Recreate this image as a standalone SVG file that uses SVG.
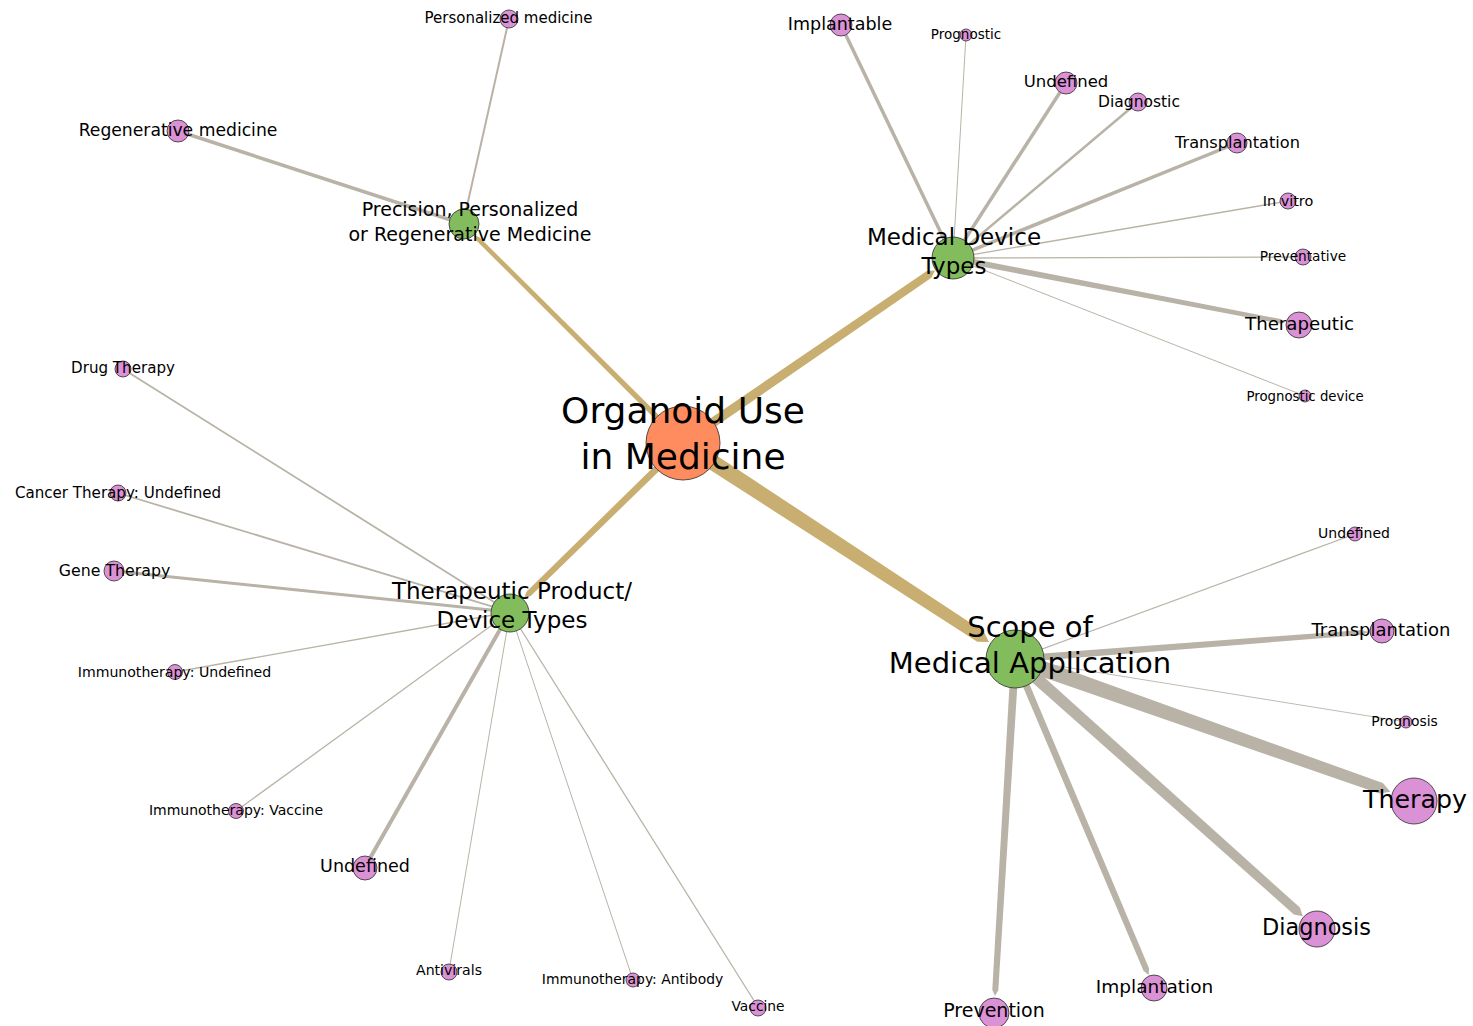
<svg xmlns="http://www.w3.org/2000/svg" width="1473" height="1026" viewBox="0 0 1473 1026">
  <style>
    .bg { fill: #ffffff; }
    .trunk { fill: #c8ae70; }
    .branch { fill: #b9b3a7; }
    .twig { stroke: #b9b3a7; fill: none; }
    circle { stroke: #2b2b2b; stroke-width: 0.8; }
    .root circle { fill: #ff8c5f; }
    .hub circle { fill: #83bc5c; }
    .leaf circle { fill: #da91d5; }
    text { font-family: "DejaVu Sans", "Liberation Sans", sans-serif; fill: #000; text-anchor: middle; }
  </style>
  <rect class="bg" width="1473" height="1026"/>

  <!-- connectors: tapered polygons for heavy links, plain strokes for light ones -->
  <g id="connectors">
    <polygon class="trunk" points="678.6,449.7 977.3,641.7 989.0,642.1 983.9,631.7 687.4,436.3"/>
    <polygon class="trunk" points="685.8,447.1 931.4,277.7 934.9,270.4 926.8,271.1 680.2,438.9"/>
    <polygon class="trunk" points="680.6,440.5 526.5,591.7 524.3,598.0 530.7,595.9 685.4,445.5"/>
    <polygon class="trunk" points="685.0,441.0 479.4,237.2 474.3,235.3 476.3,240.4 681.0,445.0"/>

    <polygon class="branch" points="1012.3,666.5 1379.2,793.5 1390.4,791.7 1382.8,783.1 1017.7,651.5"/>
    <polygon class="branch" points="1011.0,663.5 1293.9,914.4 1302.8,916.3 1299.9,907.6 1019.0,654.5"/>
    <polygon class="branch" points="1011.8,660.4 1143.5,970.8 1148.6,975.1 1149.1,968.4 1018.2,657.6"/>
    <polygon class="branch" points="1011.0,658.8 992.3,989.8 995.0,996.0 998.3,990.2 1019.0,659.2"/>
    <polygon class="branch" points="1015.3,662.5 1362.2,635.0 1368.0,632.0 1361.8,630.0 1014.7,655.5"/>
    <polygon class="branch" points="952.4,261.0 1280.0,323.5 1285.3,322.3 1280.8,319.1 953.6,255.1"/>

    <line class="twig" x1="463" y1="224" x2="178" y2="131" stroke-width="3.5"/>
    <line class="twig" x1="463" y1="224" x2="509" y2="19" stroke-width="2"/>

    <line class="twig" x1="953" y1="258" x2="841" y2="25" stroke-width="3.5"/>
    <line class="twig" x1="953" y1="258" x2="966" y2="35" stroke-width="1"/>
    <line class="twig" x1="953" y1="258" x2="1066" y2="83" stroke-width="3.5"/>
    <line class="twig" x1="953" y1="258" x2="1138" y2="102" stroke-width="2.5"/>
    <line class="twig" x1="953" y1="258" x2="1237" y2="143" stroke-width="3.5"/>
    <line class="twig" x1="953" y1="258" x2="1288" y2="201" stroke-width="1.3"/>
    <line class="twig" x1="953" y1="258" x2="1303" y2="257" stroke-width="1.3"/>
    <line class="twig" x1="953" y1="258" x2="1305" y2="396" stroke-width="1"/>

    <line class="twig" x1="510" y1="612" x2="123" y2="369" stroke-width="1.8"/>
    <line class="twig" x1="510" y1="612" x2="118" y2="493" stroke-width="1.8"/>
    <line class="twig" x1="510" y1="612" x2="114" y2="571" stroke-width="3"/>
    <line class="twig" x1="510" y1="612" x2="175" y2="672" stroke-width="1.3"/>
    <line class="twig" x1="510" y1="612" x2="236" y2="811" stroke-width="1.3"/>
    <line class="twig" x1="510" y1="612" x2="365" y2="867" stroke-width="4"/>
    <line class="twig" x1="510" y1="612" x2="449" y2="971" stroke-width="1"/>
    <line class="twig" x1="510" y1="612" x2="633" y2="980" stroke-width="1"/>
    <line class="twig" x1="510" y1="612" x2="758" y2="1007" stroke-width="1.3"/>

    <line class="twig" x1="1015" y1="659" x2="1355" y2="534" stroke-width="1.2"/>
    <line class="twig" x1="1015" y1="659" x2="1406" y2="722" stroke-width="0.9"/>
  </g>

  <!-- centre -->
  <g id="organoid-use" class="root">
    <circle cx="683" cy="443" r="37"/>
    <text x="683" y="423" font-size="36">Organoid Use</text>
    <text x="683" y="469" font-size="36">in Medicine</text>
  </g>

  <!-- precision / personalized branch -->
  <g id="precision" class="hub">
    <circle cx="464" cy="224" r="15"/>
    <text x="470" y="216" font-size="19">Precision, Personalized</text>
    <text x="470" y="241" font-size="19">or Regenerative Medicine</text>
  </g>
  <g id="personalized-medicine" class="leaf">
    <circle cx="509" cy="19" r="9"/>
    <text x="508.5" y="23" font-size="15">Personalized medicine</text>
  </g>
  <g id="regenerative-medicine" class="leaf">
    <circle cx="178" cy="131" r="11"/>
    <text x="178" y="136" font-size="17.2">Regenerative medicine</text>
  </g>

  <!-- medical device types branch -->
  <g id="medical-device-types" class="hub">
    <circle cx="953" cy="258" r="21"/>
    <text x="954" y="245" font-size="23">Medical Device</text>
    <text x="954" y="274" font-size="23">Types</text>
  </g>
  <g id="mdt-implantable" class="leaf">
    <circle cx="841" cy="25" r="11"/>
    <text x="840" y="30" font-size="17.5">Implantable</text>
  </g>
  <g id="mdt-prognostic" class="leaf">
    <circle cx="966" cy="35" r="6"/>
    <text x="966" y="39" font-size="13.5">Prognostic</text>
  </g>
  <g id="mdt-undefined" class="leaf">
    <circle cx="1066" cy="83" r="11"/>
    <text x="1066" y="87" font-size="16.5">Undefined</text>
  </g>
  <g id="mdt-diagnostic" class="leaf">
    <circle cx="1138" cy="102" r="9"/>
    <text x="1139" y="107" font-size="15.5">Diagnostic</text>
  </g>
  <g id="mdt-transplantation" class="leaf">
    <circle cx="1237" cy="143" r="10"/>
    <text x="1237.5" y="148" font-size="16.2">Transplantation</text>
  </g>
  <g id="mdt-in-vitro" class="leaf">
    <circle cx="1288" cy="201" r="8"/>
    <text x="1288" y="206" font-size="14.4">In vitro</text>
  </g>
  <g id="mdt-preventative" class="leaf">
    <circle cx="1303" cy="257" r="8"/>
    <text x="1303" y="261" font-size="13.7">Preventative</text>
  </g>
  <g id="mdt-therapeutic" class="leaf">
    <circle cx="1299" cy="325" r="13"/>
    <text x="1299.5" y="330" font-size="18.2">Therapeutic</text>
  </g>
  <g id="mdt-prognostic-device" class="leaf">
    <circle cx="1305" cy="396" r="6"/>
    <text x="1305" y="401" font-size="13.3">Prognostic device</text>
  </g>

  <!-- therapeutic product / device types branch -->
  <g id="therapeutic-product" class="hub">
    <circle cx="510" cy="613" r="19"/>
    <text x="512" y="599" font-size="23">Therapeutic Product/</text>
    <text x="512" y="628" font-size="23">Device Types</text>
  </g>
  <g id="tp-drug-therapy" class="leaf">
    <circle cx="123" cy="369" r="8"/>
    <text x="123" y="373" font-size="15.1">Drug Therapy</text>
  </g>
  <g id="tp-cancer-therapy" class="leaf">
    <circle cx="118" cy="493" r="8"/>
    <text x="118" y="498" font-size="15.1">Cancer Therapy: Undefined</text>
  </g>
  <g id="tp-gene-therapy" class="leaf">
    <circle cx="114" cy="571" r="10"/>
    <text x="114.5" y="576" font-size="15.8">Gene Therapy</text>
  </g>
  <g id="tp-immunotherapy-undefined" class="leaf">
    <circle cx="175" cy="672" r="7.5"/>
    <text x="174.5" y="677" font-size="14.1">Immunotherapy: Undefined</text>
  </g>
  <g id="tp-immunotherapy-vaccine" class="leaf">
    <circle cx="236" cy="811" r="7.5"/>
    <text x="236" y="815" font-size="14">Immunotherapy: Vaccine</text>
  </g>
  <g id="tp-undefined" class="leaf">
    <circle cx="365" cy="868" r="12"/>
    <text x="365" y="872" font-size="17.5">Undefined</text>
  </g>
  <g id="tp-antivirals" class="leaf">
    <circle cx="449" cy="972" r="8"/>
    <text x="449" y="975" font-size="14.1">Antivirals</text>
  </g>
  <g id="tp-immunotherapy-antibody" class="leaf">
    <circle cx="633" cy="980" r="7"/>
    <text x="632.5" y="984" font-size="13.9">Immunotherapy: Antibody</text>
  </g>
  <g id="tp-vaccine" class="leaf">
    <circle cx="758" cy="1008" r="8"/>
    <text x="758" y="1011" font-size="13.8">Vaccine</text>
  </g>

  <!-- scope of medical application branch -->
  <g id="scope-of-application" class="hub">
    <circle cx="1015" cy="659" r="29"/>
    <text x="1030" y="637" font-size="29">Scope of</text>
    <text x="1030" y="673" font-size="29">Medical Application</text>
  </g>
  <g id="scope-undefined" class="leaf">
    <circle cx="1355" cy="534" r="7"/>
    <text x="1354" y="538" font-size="14">Undefined</text>
  </g>
  <g id="scope-transplantation" class="leaf">
    <circle cx="1382" cy="631" r="12"/>
    <text x="1381" y="636" font-size="18">Transplantation</text>
  </g>
  <g id="scope-prognosis" class="leaf">
    <circle cx="1406" cy="722" r="6"/>
    <text x="1404.5" y="726" font-size="13.9">Prognosis</text>
  </g>
  <g id="scope-therapy" class="leaf">
    <circle cx="1414" cy="801" r="23"/>
    <text x="1415" y="808" font-size="25.3">Therapy</text>
  </g>
  <g id="scope-diagnosis" class="leaf">
    <circle cx="1317" cy="929" r="18"/>
    <text x="1316.5" y="935" font-size="22.4">Diagnosis</text>
  </g>
  <g id="scope-implantation" class="leaf">
    <circle cx="1154" cy="988" r="13"/>
    <text x="1154.5" y="993" font-size="18.5">Implantation</text>
  </g>
  <g id="scope-prevention" class="leaf">
    <circle cx="994" cy="1013" r="15"/>
    <text x="994" y="1017" font-size="19">Prevention</text>
  </g>
</svg>
